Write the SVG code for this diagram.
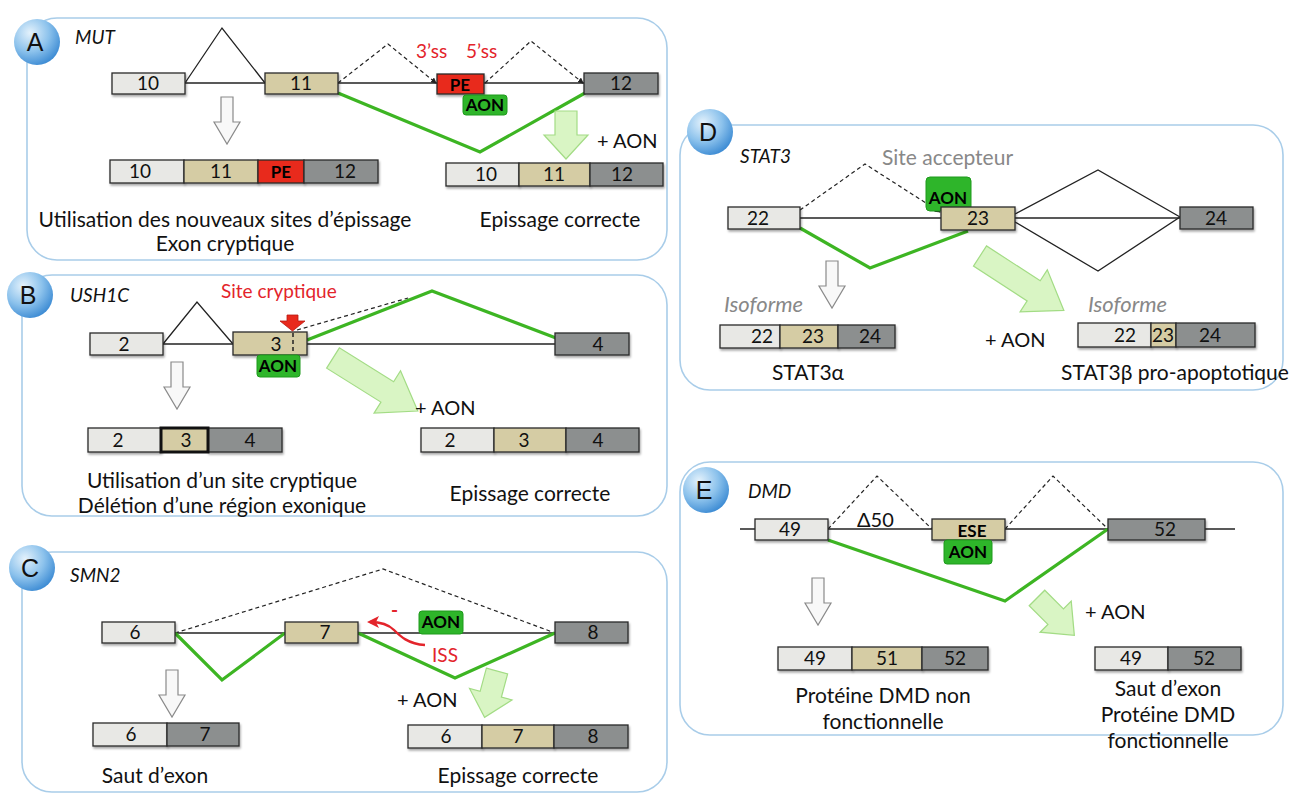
<svg xmlns="http://www.w3.org/2000/svg" width="1293" height="800" viewBox="0 0 1293 800">
<defs>
<style>
.panel{fill:#ffffff;stroke:#a9cde9;stroke-width:1.6}
.badge{fill:url(#bg)}
.bt{font-family:"Liberation Sans",Arial,sans-serif;font-size:25px;fill:#111;text-anchor:middle}
.gene{font-family:Lato,"Open Sans",sans-serif;font-style:italic;font-size:19px;fill:#111}
.ln{stroke:#222;stroke-width:1.3;fill:none}
.dash{stroke:#222;stroke-width:1.2;stroke-dasharray:4 3;fill:none}
.gr{stroke:#3db523;stroke-width:3.2;fill:none;stroke-linejoin:miter}
.ex{stroke:#2a2a2a;stroke-width:1.3;filter:url(#sh)}
.e1{fill:#e8e8e5}
.e2{fill:#d5cca4}
.e3{fill:#8c8f8f}
.pe{fill:#e8291c}
.aon{fill:#2eb52a;stroke:#1f9a1c;stroke-width:1}
.n{font-family:Lato,"Open Sans",sans-serif;font-size:19px;fill:#111;text-anchor:middle}
.nb{font-family:Lato,"Open Sans",sans-serif;font-size:17px;font-weight:bold;fill:#000;text-anchor:middle}
.t{font-family:Lato,"Open Sans",sans-serif;font-size:21px;fill:#111;text-anchor:middle}
.red{font-family:Lato,"Open Sans",sans-serif;font-size:19px;fill:#e3242b}
.gt{font-family:Lato,"Open Sans",sans-serif;font-size:21px;fill:#888}
.gi{font-family:Lato,"Open Sans",sans-serif;font-size:22px;font-style:italic;fill:#888}
.pa{font-family:Lato,"Open Sans",sans-serif;font-size:20px;fill:#111}
.ga{fill:#f8f8f8;stroke:#8a8a8a;stroke-width:1.2}
.gra{fill:#d9f5c4;stroke:#a3dc85;stroke-width:1.2}
</style>
<radialGradient id="bg" cx="0.35" cy="0.3" r="0.75">
<stop offset="0" stop-color="#e4f2fc"/>
<stop offset="0.55" stop-color="#8cc2ec"/>
<stop offset="1" stop-color="#3b8ad3"/>
</radialGradient>
<filter id="sh" x="-10%" y="-20%" width="125%" height="160%">
<feDropShadow dx="1" dy="2" stdDeviation="1" flood-color="#000" flood-opacity="0.35"/>
</filter>
<marker id="ah" markerWidth="6" markerHeight="6" refX="5" refY="3" orient="auto" markerUnits="userSpaceOnUse">
<path d="M0,0 L6,3 L0,6 Z" fill="#222"/>
</marker>
<marker id="rh" markerWidth="12" markerHeight="12" refX="9" refY="6" orient="auto" markerUnits="userSpaceOnUse">
<path d="M0,0 L12,6 L0,12 L3,6 Z" fill="#e3242b"/>
</marker>
<path id="garrow" d="M-6,0 H6 V25 H13 L0,47 L-13,25 H-6 Z"/>
<path id="gnarrow" d="M-11,0 H11 V24 H22 L0,48 L-22,24 H-11 Z"/>
<path id="glong" d="M-12,0 H12 V64 H25 L0,100 L-25,64 H-12 Z"/>
</defs>
<rect width="1293" height="800" fill="#ffffff"/>

<!-- Panel A -->
<g id="panelA">
<rect class="panel" x="27" y="18" width="640" height="242" rx="30"/>
<circle class="badge" cx="37" cy="42" r="23"/>
<text class="bt" x="35" y="51">A</text>
<text class="gene" x="75" y="44">MUT</text>
<g id="A-connectors">
<path class="ln" d="M185,83 H585"/>
<path class="ln" d="M185,83 L222,28 L265,83"/>
<path class="dash" d="M338,83 L388,44 L436,83" marker-end="url(#ah)"/>
<path class="dash" d="M485,83 L531,41 L583,83" marker-end="url(#ah)"/>
<path class="gr" d="M338,93 L480,152 L585,93"/>
</g>
<g id="A-exon10"><rect class="ex e1" x="112" y="73" width="73" height="21"/><text class="n" x="148" y="90">10</text></g>
<g id="A-exon11"><rect class="ex e2" x="265" y="73" width="73" height="21"/><text class="n" x="301" y="90">11</text></g>
<g id="A-PE"><rect class="ex pe" x="437" y="74" width="47" height="20"/><text class="nb" x="460" y="91">PE</text></g>
<g id="A-exon12"><rect class="ex e3" x="584" y="73" width="74" height="21"/><text class="n" x="621" y="90">12</text></g>
<g id="A-AON"><rect class="aon" x="463" y="95" width="44" height="20" rx="3"/><text class="nb" x="485" y="111">AON</text></g>
<text class="red" x="416" y="58">3’ss</text>
<text class="red" x="466" y="58">5’ss</text>
<use href="#garrow" class="ga" x="227" y="97"/>
<use href="#gnarrow" class="gra" x="566" y="111"/>
<text class="pa" x="597" y="148">+ AON</text>
<g id="A-res1">
<rect class="ex e1" x="110" y="160" width="74" height="23"/>
<rect class="ex e2" x="184" y="160" width="74" height="23"/>
<rect class="ex pe" x="258" y="160" width="46" height="23"/>
<rect class="ex e3" x="304" y="160" width="74" height="23"/>
<text class="n" x="140" y="178">10</text><text class="n" x="221" y="178">11</text><text class="nb" x="281" y="178">PE</text><text class="n" x="345" y="178">12</text>
</g>
<g id="A-res2">
<rect class="ex e1" x="446" y="163" width="73" height="23"/>
<rect class="ex e2" x="519" y="163" width="71" height="23"/>
<rect class="ex e3" x="590" y="163" width="73" height="23"/>
<text class="n" x="486" y="181">10</text><text class="n" x="554" y="181">11</text><text class="n" x="622" y="181">12</text>
</g>
<text class="t" x="225" y="227">Utilisation des nouveaux sites d’épissage</text>
<text class="t" x="225" y="251">Exon cryptique</text>
<text class="t" x="560" y="227">Epissage correcte</text>
</g>

<!-- Panel B -->
<g id="panelB">
<rect class="panel" x="22" y="275" width="645" height="241" rx="30"/>
<circle class="badge" cx="30" cy="295" r="23"/>
<text class="bt" x="28" y="304">B</text>
<text class="gene" x="70" y="302">USH1C</text>
<g id="B-connectors">
<path class="ln" d="M163,344 H555"/>
<path class="ln" d="M163,344 L197,302 L233,344"/>
<path class="gr" d="M307,340 L432,291 L556,338"/>
<path class="dash" d="M297,330 L408,298"/>
</g>
<g id="B-exon2"><rect class="ex e1" x="90" y="333" width="73" height="22"/><text class="n" x="124" y="351">2</text></g>
<g id="B-exon3"><rect class="ex e2" x="233" y="332" width="74" height="23"/><text class="n" x="276" y="351">3</text>
<path d="M293,333 V354" stroke="#222" stroke-width="1.5" stroke-dasharray="4 3"/></g>
<g id="B-exon4"><rect class="ex e3" x="555" y="333" width="74" height="22"/><text class="n" x="598" y="351">4</text></g>
<g id="B-AON"><rect class="aon" x="257" y="355" width="43" height="22" rx="3"/><text class="nb" x="278" y="372">AON</text></g>
<text class="red" x="221" y="298" font-size="21">Site cryptique</text>
<path d="M287,315 H298 V321 H305 L292.5,331 L280,321 H287 Z" fill="#e8291c" stroke="#b81a12" stroke-width="0.8"/>
<use href="#garrow" class="ga" x="177" y="362"/>
<use href="#glong" class="gra" transform="translate(333,358) rotate(-58)"/>
<text class="pa" x="415" y="415">+ AON</text>
<g id="B-res1">
<rect class="ex e1" x="88" y="428" width="73" height="24"/>
<rect class="ex e3" x="208" y="428" width="74" height="24"/>
<rect class="e2" x="161" y="428" width="47" height="24" stroke="#111" stroke-width="3"/>
<text class="n" x="118" y="447">2</text><text class="n" x="186" y="447">3</text><text class="n" x="250" y="447">4</text>
</g>
<g id="B-res2">
<rect class="ex e1" x="421" y="428" width="73" height="24"/>
<rect class="ex e2" x="494" y="428" width="72" height="24"/>
<rect class="ex e3" x="566" y="428" width="73" height="24"/>
<text class="n" x="450" y="447">2</text><text class="n" x="524" y="447">3</text><text class="n" x="598" y="447">4</text>
</g>
<text class="t" x="222" y="488" font-size="20">Utilisation d’un site cryptique</text>
<text class="t" x="222" y="513" font-size="20">Délétion d’une région exonique</text>
<text class="t" x="530" y="501">Epissage correcte</text>
</g>

<!-- Panel C -->
<g id="panelC">
<rect class="panel" x="22" y="552" width="645" height="240" rx="30"/>
<circle class="badge" cx="32" cy="568" r="23"/>
<text class="bt" x="30" y="577">C</text>
<text class="gene" x="70" y="582">SMN2</text>
<g id="C-connectors">
<path class="ln" d="M175,633 H555"/>
<path class="dash" d="M175,633 L383,569 L555,633"/>
<path class="gr" d="M175,633 L222,680 L285,633"/>
<path class="gr" d="M358,633 L455,678 L555,633"/>
<path d="M425,645 C408,644 400,636 394,630 C388,624 380,622 370,622" stroke="#e3242b" stroke-width="2.4" fill="none" marker-end="url(#rh)"/>
</g>
<g id="C-exon6"><rect class="ex e1" x="102" y="622" width="73" height="21"/><text class="n" x="135" y="639">6</text></g>
<g id="C-exon7"><rect class="ex e2" x="285" y="622" width="73" height="21"/><text class="n" x="325" y="639">7</text></g>
<g id="C-exon8"><rect class="ex e3" x="555" y="622" width="73" height="21"/><text class="n" x="593" y="639">8</text></g>
<g id="C-AON"><rect class="aon" x="419" y="611" width="44" height="23" rx="3"/><text class="nb" x="441" y="628">AON</text></g>
<text class="red" x="391" y="617" font-weight="bold">-</text>
<text class="red" x="432" y="662">ISS</text>
<use href="#garrow" class="ga" x="172" y="670"/>
<use href="#gnarrow" class="gra" transform="translate(497,671) rotate(15)"/>
<text class="pa" x="397" y="707">+ AON</text>
<g id="C-res1">
<rect class="ex e1" x="93" y="723" width="74" height="23"/>
<rect class="ex e3" x="167" y="723" width="72" height="23"/>
<text class="n" x="131" y="741">6</text><text class="n" x="205" y="741">7</text>
</g>
<g id="C-res2">
<rect class="ex e1" x="408" y="725" width="74" height="23"/>
<rect class="ex e2" x="482" y="725" width="72" height="23"/>
<rect class="ex e3" x="554" y="725" width="74" height="23"/>
<text class="n" x="446" y="743">6</text><text class="n" x="518" y="743">7</text><text class="n" x="593" y="743">8</text>
</g>
<text class="t" x="155" y="783">Saut d’exon</text>
<text class="t" x="518" y="783">Epissage correcte</text>
</g>

<!-- Panel D -->
<g id="panelD">
<rect class="panel" x="680" y="125" width="603" height="265" rx="30"/>
<circle class="badge" cx="710" cy="132" r="23"/>
<text class="bt" x="708" y="141">D</text>
<text class="gene" x="740" y="163">STAT3</text>
<text class="gt" x="882" y="165">Site accepteur</text>
<g id="D-connectors">
<path class="ln" d="M800,218 H1180"/>
<path class="dash" d="M800,210 L865,164 L940,212" marker-end="url(#ah)"/>
<path class="ln" d="M1015,214 L1098,170 L1180,217 L1098,271 L1015,222"/>
<path class="gr" d="M800,228 L870,268 L968,231"/>
</g>
<g id="D-exon22"><rect class="ex e1" x="728" y="207" width="72" height="22"/><text class="n" x="758" y="225">22</text></g>
<g id="D-AON"><rect class="aon" x="926" y="177" width="45" height="34" rx="4"/><text class="nb" x="948" y="204">AON</text></g>
<g id="D-exon23"><rect class="ex e2" x="941" y="207" width="74" height="23"/><text class="n" x="978" y="225">23</text></g>
<g id="D-exon24"><rect class="ex e3" x="1180" y="207" width="73" height="22"/><text class="n" x="1216" y="225">24</text></g>
<use href="#garrow" class="ga" x="832" y="261"/>
<text class="gi" x="724" y="312">Isoforme</text>
<use href="#glong" class="gra" transform="translate(980,256) rotate(-57)"/>
<text class="gi" x="1088" y="312">Isoforme</text>
<g id="D-res1">
<rect class="ex e1" x="720" y="325" width="60" height="23"/>
<rect class="ex e2" x="780" y="325" width="58" height="23"/>
<rect class="ex e3" x="838" y="325" width="57" height="23"/>
<text class="n" x="762" y="343">22</text><text class="n" x="813" y="343">23</text><text class="n" x="870" y="343">24</text>
</g>
<text class="pa" x="985" y="347">+ AON</text>
<g id="D-res2">
<rect class="ex e1" x="1078" y="323" width="73" height="24"/>
<rect class="ex e2" x="1151" y="323" width="25" height="24"/>
<rect class="ex e3" x="1176" y="323" width="79" height="24"/>
<text class="n" x="1125" y="342">22</text><text class="n" x="1163" y="342" font-size="17">23</text><text class="n" x="1210" y="342">24</text>
</g>
<text class="t" x="808" y="380">STAT3α</text>
<text class="t" x="1175" y="380" font-size="20">STAT3β pro-apoptotique</text>
</g>

<!-- Panel E -->
<g id="panelE">
<rect class="panel" x="680" y="462" width="603" height="273" rx="30"/>
<circle class="badge" cx="706" cy="490" r="23"/>
<text class="bt" x="704" y="499">E</text>
<text class="gene" x="748" y="498">DMD</text>
<g id="E-connectors">
<path class="ln" d="M740,529 H1235"/>
<path class="dash" d="M828,529 L877,476 L932,529"/>
<path class="dash" d="M1005,529 L1053,476 L1108,529"/>
<path class="gr" d="M828,540 L1005,601 L1108,529"/>
</g>
<text class="pa" x="857" y="527" font-size="21">Δ50</text>
<g id="E-exon49"><rect class="ex e1" x="755" y="519" width="73" height="21"/><text class="n" x="790" y="536">49</text></g>
<g id="E-exonESE"><rect class="ex e2" x="932" y="519" width="73" height="21"/><text class="nb" x="972" y="537">ESE</text></g>
<g id="E-exon52"><rect class="ex e3" x="1108" y="519" width="97" height="21"/><text class="n" x="1165" y="536">52</text></g>
<g id="E-AON"><rect class="aon" x="944" y="540" width="48" height="24" rx="3"/><text class="nb" x="968" y="558">AON</text></g>
<use href="#garrow" class="ga" x="818" y="578"/>
<use href="#gnarrow" class="gra" transform="translate(1037,598) rotate(-45) scale(1,1.1)"/>
<text class="pa" x="1085" y="619">+ AON</text>
<g id="E-res1">
<rect class="ex e1" x="778" y="647" width="74" height="23"/>
<rect class="ex e2" x="852" y="647" width="70" height="23"/>
<rect class="ex e3" x="922" y="647" width="66" height="23"/>
<text class="n" x="815" y="665">49</text><text class="n" x="887" y="665">51</text><text class="n" x="955" y="665">52</text>
</g>
<g id="E-res2">
<rect class="ex e1" x="1095" y="647" width="73" height="23"/>
<rect class="ex e3" x="1168" y="647" width="73" height="23"/>
<text class="n" x="1131" y="665">49</text><text class="n" x="1204" y="665">52</text>
</g>
<text class="t" x="883" y="703">Protéine DMD non</text>
<text class="t" x="883" y="729">fonctionnelle</text>
<text class="t" x="1168" y="696">Saut d’exon</text>
<text class="t" x="1168" y="722">Protéine DMD</text>
<text class="t" x="1168" y="748">fonctionnelle</text>
</g>
</svg>
